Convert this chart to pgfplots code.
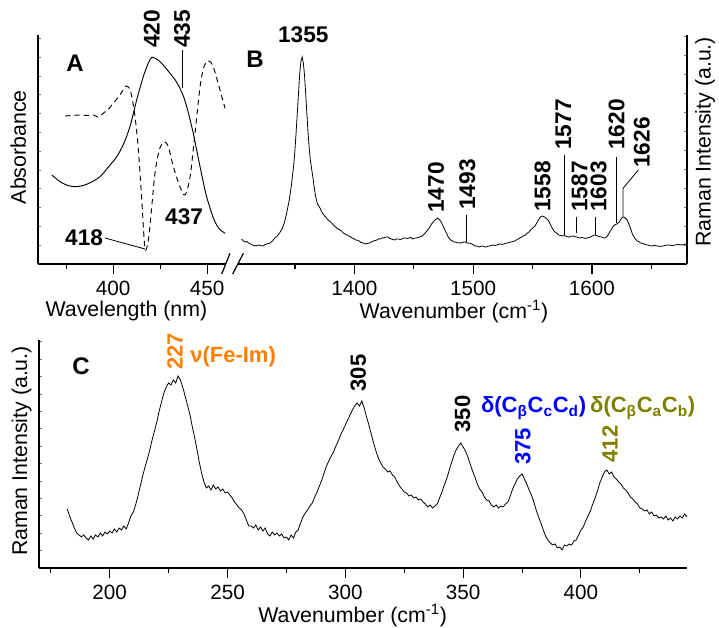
\documentclass[border=0pt]{standalone}
\usepackage{fontspec}
\setmainfont{Liberation Sans}
\usepackage{pgfplots}
\pgfplotsset{compat=1.18}
\definecolor{porange}{RGB}{255,128,0}
\definecolor{pblue}{RGB}{0,0,255}
\definecolor{polive}{RGB}{128,128,0}
\newcommand{\tickfont}{\fontsize{15.5}{16}\selectfont}
\newcommand{\labfont}{\fontsize{16}{17}\selectfont}
\newcommand{\pkfont}{\fontsize{17}{18}\selectfont\bfseries}
\newcommand{\pkfontc}{\fontsize{16.5}{17}\selectfont\bfseries}
\newcommand{\panfont}{\fontsize{18}{19}\selectfont\bfseries}
\pgfplotsset{
  myaxis/.style={
    scale only axis, anchor=south west,
    clip=false,
    /pgf/number format/assume math mode=true,
    /pgf/number format/1000 sep={},
    axis line style={line width=1.2pt},
    xtick align=outside, ytick align=inside,
    major tick length=7.5pt, minor tick length=3.75pt,
    xtick style={black, line width=0.8pt},
    ytick style={/pgfplots/major tick length=2.5pt, line width=0.5pt, black!55},
    yticklabels={},
    tick label style={font=\tickfont},
    xticklabel style={anchor=center, inner sep=0pt, yshift=-10.5pt},
  },
}
\begin{document}
\begin{tikzpicture}
\useasboundingbox (0,0) rectangle (539.25pt,471pt);
% ---------------- Panel A ----------------
\begin{axis}[myaxis,
  at={(28.5pt,273pt)}, width=141pt, height=171.75pt,
  xmin=360, xmax=460, ymin=0, ymax=229,
  axis x line*=bottom, axis y line*=left,
  xtick={400,450}, minor xtick={375,425},
  ytick={0,18.8,...,229},
  every axis x label/.style={at={(axis description cs:0.47,0)}, anchor=center, inner sep=0pt, yshift=-35.6pt, font=\labfont},
  xlabel={Wavelength (nm)},
  every axis y label/.style={at={(axis description cs:0,0.51)}, anchor=center, inner sep=0pt, xshift=-14.8pt, rotate=90, font=\labfont},
  ylabel={Absorbance},
]
\addplot[black, line width=0.7pt, smooth] coordinates {
(367.3,89) (372,82) (376,78.5) (379.7,77.3) (384,78.5) (388,81.5) (393,87.3) (397,96) (401.9,107.3)
(405.5,120) (408.9,137.3) (412.5,164) (416,187.3) (418.5,200) (420.5,206.7) (422.5,205.5) (424.9,202.3)
(427.5,197) (430.2,190.7) (433,184) (435.5,175.7) (437.5,167) (439.1,157.3) (440.8,145) (442.6,130.7)
(444.4,114) (446.2,97.3) (448,81) (449.7,67.3) (452,53) (454.1,42.3) (456.5,35) (459.5,30.7)
};
\addplot[black, line width=0.7pt, dash pattern=on 4pt off 3pt, smooth] coordinates {
(374.4,148) (378,148.5) (382.3,149) (386,148.5) (389.5,149) (392.1,147) (394.7,150.7) (397.5,155)
(400,160.7) (403.6,169) (406.8,178) (409.3,172.3) (411.6,147.3) (413.4,114) (415.2,64) (416.9,15.7)
(418.7,24) (420.5,57.3) (422.2,90.7) (424.5,114) (427,122.3) (429.3,117.3) (432,97.3) (435.5,77.3)
(438.2,69) (440.9,87.3) (443.5,130.7) (446.2,177.3) (448.3,197.3) (450.6,203.3) (453.2,197.3)
(456.8,174) (459.5,155.7)
};
\node[font=\panfont] at (axis cs:379.7,201) {A};
\node[font=\pkfont, rotate=90, anchor=west, inner sep=0pt] at (axis cs:420.6,216) {420};
\node[font=\pkfont, rotate=90, anchor=west, inner sep=0pt] at (axis cs:436.6,216) {435};
\draw[line width=0.6pt] (axis cs:436.6,214) -- (axis cs:436.6,176);
\node[font=\pkfont, anchor=center] at (axis cs:384.5,26) {418};
\draw[line width=0.6pt] (axis cs:395.6,26) -- (axis cs:416.9,15);
\node[font=\pkfont, anchor=center] at (axis cs:437.7,47) {437};
\end{axis}
% ---------------- Panel B ----------------
\begin{axis}[myaxis,
  at={(178.5pt,273pt)}, width=336.75pt, height=171.75pt,
  xmin=1302, xmax=1680, ymin=0, ymax=229,
  axis x line*=bottom, axis y line*=right,
  xtick={1400,1500,1600}, minor xtick={1350,1450,1550,1650},
  ytick={0,19,...,229},
  every axis x label/.style={at={(axis description cs:0.481,0)}, anchor=center, inner sep=0pt, yshift=-35.6pt, font=\labfont},
  xlabel={Wavenumber (cm\textsuperscript{-1})},
  every axis y label/.style={at={(axis description cs:1,0.533)}, anchor=center, inner sep=0pt, xshift=13.5pt, rotate=90, font=\labfont},
  ylabel={Raman Intensity (a.u.)},
]
\addplot[black, line width=0.6pt] coordinates {
(1305,25) (1306.5,23) (1308,22) (1309.5,22.5) (1311,21) (1312.5,20) (1314,19) (1315.5,18.5) (1317,18)
(1318.5,18.8) (1320,19) (1321.5,18.2) (1323,18) (1324.5,19.2) (1326,20) (1327.5,20.4) (1329,21)
(1331,23) (1333,26) (1335,28) (1337,31) (1339,35) (1341,41) (1343,51) (1345,63) (1347,79) (1349,100)
(1350,115) (1351,133) (1352,152) (1353,172) (1354,191) (1355,203) (1356,207) (1357,201) (1358,189)
(1359,170) (1360,150) (1361,131) (1362,115) (1363,103) (1364,95) (1365,87) (1366,78) (1367,70)
(1368,64) (1369,60) (1370,58) (1371,56) (1372,53.5) (1373,51) (1374,49.5) (1375,48) (1376,46.8)
(1377,45) (1378.5,43.5) (1380,42) (1381.5,40.2) (1383,38) (1384.5,36.8) (1386,35) (1387.5,34.4)
(1389,33) (1390.5,31.2) (1392,30) (1393.5,29.2) (1395,28) (1396.5,27.5) (1398,26) (1399.5,25.4)
(1401,24) (1402.5,23.8) (1404,23) (1405.5,21.6) (1407,21) (1408.5,20.6) (1410,20) (1411.5,20.8)
(1413,21) (1414.5,22.2) (1416,23) (1417.5,23.5) (1419,24) (1420.5,25.2) (1422,25) (1423.5,26.2)
(1425,26) (1426.5,27) (1428,27) (1429.5,25.8) (1431,25) (1432.5,24.4) (1434,24) (1435.5,25.1)
(1437,25) (1438.5,24.5) (1440,25) (1441.5,26) (1443,26) (1444.5,25.5) (1446,26) (1447.5,26.6)
(1449,25) (1450.5,25.8) (1452,26) (1453.5,26.4) (1455,27) (1456.5,27.8) (1458,29) (1459.5,30.8)
(1461,33) (1462,34.5) (1463,36) (1464,38) (1465,40) (1466,41.5) (1467,43) (1468,44) (1469,45)
(1470,46) (1471,45) (1472,43.8) (1473,42) (1474,39.6) (1475,37) (1476,34.5) (1477,32) (1478,29.5)
(1479,27) (1480,25.5) (1481,24) (1482.5,23) (1484,22) (1485.5,21.8) (1487,21) (1488.5,21.2)
(1490,21) (1491.5,21.8) (1493,22) (1494.5,21.2) (1496,21) (1497.5,20.6) (1499,20) (1500.5,18.8)
(1502,18) (1503.5,17.8) (1505,17) (1506.5,17.6) (1508,18) (1509.5,17.2) (1511,17) (1512.5,17.8)
(1514,18) (1515.5,18.6) (1517,19) (1518.5,18.4) (1520,19) (1521.5,19.8) (1523,20) (1524.5,19.6)
(1526,20) (1527.5,20.8) (1529,21) (1530.5,21.6) (1532,22) (1533.5,22.5) (1535,23) (1536.5,24.2)
(1538,25) (1539.5,26.2) (1541,27) (1542.5,28.2) (1544,29) (1545.5,30.8) (1547,32) (1548.5,34.2)
(1550,36) (1551,37) (1552,38) (1553,40) (1554,42) (1555,44.2) (1556,46) (1557,47.2) (1558,48)
(1559,47.6) (1560,47) (1561,46.2) (1562,45) (1563,43.8) (1564,42) (1565,39.5) (1566,37) (1567,35)
(1568,33) (1569,32) (1570,31) (1571,30.2) (1572,29) (1573.5,28.6) (1575,28) (1576.5,28.4) (1578,28)
(1579.5,27.2) (1581,27) (1582.5,27.8) (1584,28) (1585.5,27.4) (1587,27) (1588.5,26.4) (1590,26)
(1591.5,26.6) (1593,26) (1594.5,25.6) (1596,26) (1597.5,26.6) (1599,27) (1600.5,28.2) (1602,29)
(1603.5,28.8) (1605,28) (1606.5,27.4) (1608,27) (1609.5,26.2) (1611,26) (1612,26.8) (1613,28)
(1614,30) (1615,32) (1616,34) (1617,36) (1618,37.8) (1619,39) (1620,39.6) (1621,40) (1622,41)
(1623,42) (1624,44) (1625,46) (1626,47) (1627,46.8) (1628,46) (1629,44.8) (1630,43) (1631,40.2)
(1632,37) (1633,33.5) (1634,30) (1635,27.8) (1636,26) (1637,24.5) (1638,23) (1639.5,22.4) (1641,21)
(1642.5,20.6) (1644,20) (1645.5,19.2) (1647,19) (1648.5,18.4) (1650,18) (1652.5,18.6) (1655,18)
(1657.5,17.6) (1660,18) (1662.5,18.8) (1665,19) (1667.5,18.4) (1670,19) (1672.5,19.6) (1675,19)
(1677.5,19.4) (1679,20)
};
\node[font=\panfont] at (axis cs:1316.3,204.7) {B};
\node[font=\pkfont] at (axis cs:1357,229.3) {1355};
\node[font=\pkfont, rotate=90, anchor=west, inner sep=0pt] at (axis cs:1468.7,51) {1470};
\node[font=\pkfont, rotate=90, anchor=west, inner sep=0pt] at (axis cs:1495,54) {1493};
\draw[line width=0.6pt] (axis cs:1494,49) -- (axis cs:1494,22.3);
\node[font=\pkfont, rotate=90, anchor=west, inner sep=0pt] at (axis cs:1558.5,52) {1558};
\node[font=\pkfont, rotate=90, anchor=west, inner sep=0pt] at (axis cs:1575.9,114) {1577};
\draw[line width=0.6pt] (axis cs:1576.7,109) -- (axis cs:1576.7,29);
\node[font=\pkfont, rotate=90, anchor=west, inner sep=0pt] at (axis cs:1589.5,52) {1587};
\draw[line width=0.6pt] (axis cs:1587.1,47.3) -- (axis cs:1587.1,30.7);
\node[font=\pkfont, rotate=90, anchor=west, inner sep=0pt] at (axis cs:1605.5,52) {1603};
\draw[line width=0.6pt] (axis cs:1603.1,47.3) -- (axis cs:1603.1,29);
\node[font=\pkfont, rotate=90, anchor=west, inner sep=0pt] at (axis cs:1620.8,114) {1620};
\draw[line width=0.6pt] (axis cs:1620.2,107.3) -- (axis cs:1620.2,40.7);
\node[font=\pkfont, rotate=90, anchor=west, inner sep=0pt] at (axis cs:1641.9,96) {1626};
\draw[line width=0.6pt] (axis cs:1639,94) -- (axis cs:1626.2,75.7) -- (axis cs:1626.2,47.3);
\end{axis}
% axis break marks
\draw[line width=0.9pt] (166.3pt,265.5pt) -- (172.5pt,281pt);
\draw[line width=0.9pt] (174.5pt,265.5pt) -- (182.5pt,281pt);
% ---------------- Panel C ----------------
\begin{axis}[myaxis,
  at={(29.25pt,45pt)}, width=486pt, height=171pt,
  xmin=170, xmax=445, ymin=0, ymax=228,
  axis x line*=bottom, axis y line*=left,
  xtick={200,250,...,400}, minor xtick={175,225,...,425},
  ytick={0,17.4,...,228},
  every axis x label/.style={at={(axis description cs:0.484,0)}, anchor=center, inner sep=0pt, yshift=-35.6pt, font=\labfont},
  xlabel={Wavenumber (cm\textsuperscript{-1})},
  every axis y label/.style={at={(axis description cs:0,0.513)}, anchor=center, inner sep=0pt, xshift=-13pt, rotate=90, font=\labfont},
  ylabel={Raman Intensity (a.u.)},
]
\addplot[black, line width=0.6pt] coordinates {
(182,59) (183,52) (184,46) (185,40) (186,35) (187,33) (188,31) (189,33) (190,30) (191,28) (192,32)
(193,29) (194,33) (195,31) (196,35) (197,32) (198,36) (199,34) (200,37) (201,35) (202,39) (203,36)
(204,40) (205,38) (206,42) (207,39) (208,45) (209,52) (210,56) (211,63) (212,72) (213,82) (214,92)
(215,101) (216,109) (217,118) (218,128) (219,137) (220,146) (221,157) (222,166) (223,175) (224,181)
(225,185) (226,183) (227,188) (228,185) (229,192) (230,188) (231,181) (232,172) (233,163) (234,154)
(235,142) (236,131) (237,119) (238,106) (239,95) (240,86) (241,80) (242,82) (243,78) (244,83)
(245,79) (246,81) (247,77) (248,79) (249,75) (250,76) (251,73) (252,70) (253,66) (254,63) (255,60)
(256,58) (257,54) (258,48) (259,42) (260,42) (261,40) (262,43) (263,38) (264,41) (265,37) (266,40)
(267,34) (268,32) (269,36) (270,33) (271,35) (272,32) (273,34) (274,30) (275,31) (276,28) (277,33)
(278,30) (279,36) (280,38) (281,45) (282,51) (283,55) (284,58) (285,62) (286,65) (287,71) (288,76)
(289,82) (290,88) (291,95) (292,102) (293,107) (294,112) (295,116) (296,122) (297,127) (298,133)
(299,138) (300,143) (301,148) (302,153) (303,158) (304,162) (305,165) (306,162) (307,167) (308,160)
(309,151) (310,143) (311,134) (312,125) (313,117) (314,110) (315,105) (316,101) (317,99) (318,96)
(319,97) (320,93) (321,91) (322,86) (323,82) (324,79) (325,76) (326,75) (327,72) (328,73) (329,70)
(330,71) (331,68) (332,69) (333,66) (334,64) (335,61) (336,63) (337,60) (338,62) (339,64) (340,70)
(341,76) (342,83) (343,89) (344,97) (345,105) (346,112) (347,118) (348,122) (349,125) (350,121)
(351,117) (352,111) (353,104) (354,97) (355,91) (356,84) (357,79) (358,76) (359,71) (360,68) (361,67)
(362,63) (363,61) (364,63) (365,60) (366,62) (367,61) (368,64) (369,66) (370,72) (371,79) (372,84)
(373,89) (374,92) (375,94) (376,89) (377,84) (378,78) (379,73) (380,66) (381,58) (382,51) (383,45)
(384,38) (385,32) (386,28) (387,25) (388,23) (389,24) (390,20) (391,21) (392,18) (393,23) (394,22)
(395,24) (396,23) (397,27) (398,28) (399,33) (400,38) (401,41) (402,47) (403,52) (404,57) (405,64)
(406,70) (407,77) (408,85) (409,91) (410,96) (411,98) (412,94) (413,96) (414,91) (415,89) (416,86)
(417,84) (418,80) (419,78) (420,75) (421,71) (422,69) (423,66) (424,64) (425,60) (426,59) (427,57)
(428,58) (429,54) (430,56) (431,52) (432,53) (433,50) (434,51) (435,49) (436,52) (437,48) (438,50)
(439,47) (440,51) (441,49) (442,52) (443,50) (444,54) (445,51)
};
\node[font=\panfont] at (axis cs:187.8,201.3) {C};
\node[font=\pkfontc, text=porange, rotate=90, anchor=west, inner sep=0pt] at (axis cs:227.7,198) {227};
\node[font=\pkfontc, text=porange, anchor=west, inner sep=0pt] at (axis cs:234.1,211) {ν(Fe-Im)};
\node[font=\pkfontc, rotate=90, anchor=west, inner sep=0pt] at (axis cs:305.5,176.3) {305};
\node[font=\pkfontc, rotate=90, anchor=west, inner sep=0pt] at (axis cs:349.8,135.3) {350};
\node[font=\pkfontc, text=pblue, rotate=90, anchor=west, inner sep=0pt] at (axis cs:375.3,103) {375};
\node[font=\pkfontc, text=pblue, anchor=west, inner sep=0pt] at (axis cs:357.5,160) {δ(C\textsubscript{β}C\textsubscript{c}C\textsubscript{d})};
\node[font=\pkfontc, text=polive, rotate=90, anchor=west, inner sep=0pt] at (axis cs:412.3,105.3) {412};
\node[font=\pkfontc, text=polive, anchor=west, inner sep=0pt] at (axis cs:403.8,160) {δ(C\textsubscript{β}C\textsubscript{a}C\textsubscript{b})};
\end{axis}
\end{tikzpicture}
\end{document}
